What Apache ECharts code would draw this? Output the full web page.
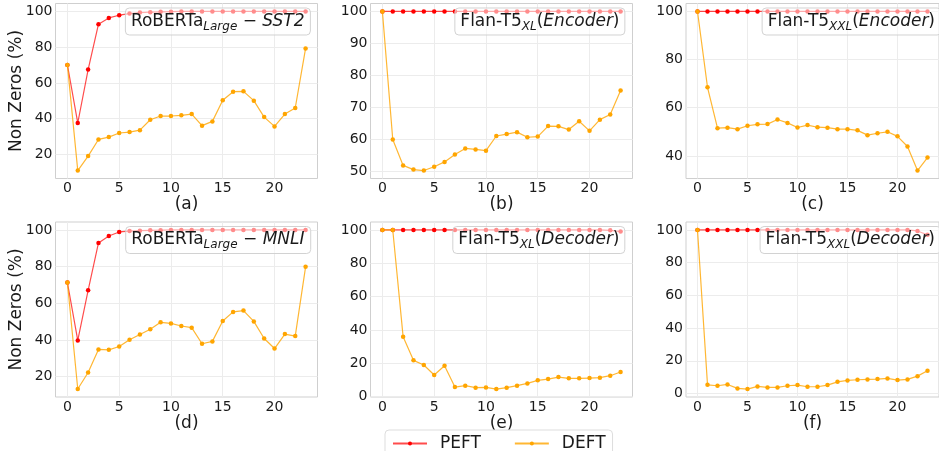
<!DOCTYPE html>
<html>
<head>
<meta charset="utf-8">
<script src="https://cdn.jsdelivr.net/npm/echarts@6/dist/echarts.min.js"></script>
<style>
  html, body { margin: 0; padding: 0; background: #fff; }
  #chart { width: 939px; height: 451px; }
</style>
</head>
<body>
<div id="chart"></div>
<script>
// layer index on the x axis
var layers = [0, 1, 2, 3, 4, 5, 6, 7, 8, 9, 10, 11, 12, 13, 14, 15, 16, 17, 18, 19, 20, 21, 22, 23];
var xTicks = [0, 5, 10, 15, 20];

// (a) RoBERTa-Large SST2
var peftA = [70.1, 37.6, 67.5, 92.9, 96.4, 97.9, 98.8, 99.4, 99.6, 99.8, 99.9, 100, 100, 100, 100, 100, 100, 100, 100, 100, 100, 100, 100, 100];
var deftA = [70.1, 11.0, 19.1, 28.4, 29.7, 32.0, 32.5, 33.6, 39.4, 41.5, 41.5, 41.9, 42.6, 36.1, 38.5, 50.3, 55.1, 55.3, 50.1, 40.9, 35.7, 42.6, 46.0, 79.3];
// (b) Flan-T5 XL encoder
var peftB = [100, 100, 100, 100, 100, 100, 100, 100, 100, 100, 100, 100, 100, 100, 100, 100, 100, 100, 100, 100, 100, 100, 100, 100];
var deftB = [100, 60.0, 51.9, 50.6, 50.3, 51.5, 53.0, 55.3, 57.2, 56.9, 56.5, 61.1, 61.7, 62.3, 60.7, 60.9, 64.2, 64.1, 63.1, 65.7, 62.7, 66.2, 67.8, 75.3];
// (c) Flan-T5 XXL encoder
var peftC = [100, 100, 100, 100, 100, 100, 100, 100, 100, 100, 100, 100, 100, 100, 100, 100, 100, 100, 100, 100, 100, 100, 100, 100];
var deftC = [100, 68.5, 51.5, 51.7, 51.1, 52.5, 53.1, 53.2, 55.1, 53.7, 51.8, 52.8, 51.9, 51.7, 51.1, 51.1, 50.6, 48.6, 49.4, 50.0, 48.1, 43.9, 33.9, 39.3];
// (d) RoBERTa-Large MNLI
var peftD = [71.3, 39.7, 67.1, 92.9, 96.7, 98.9, 99.4, 99.6, 99.8, 99.9, 100, 100, 100, 100, 100, 100, 100, 100, 100, 100, 100, 100, 100, 100];
var deftD = [71.3, 13.2, 22.2, 34.8, 34.6, 36.4, 40.1, 43.0, 45.8, 49.6, 49.0, 47.6, 46.7, 37.9, 39.2, 50.3, 55.3, 56.0, 50.1, 40.8, 35.3, 43.2, 42.1, 79.9];
// (e) Flan-T5 XL decoder
var peftE = [100, 100, 100, 100, 100, 100, 100, 100, 100, 100, 100, 100, 100, 100, 100, 100, 100, 100, 100, 100, 100, 100, 99.8, 99.0];
var deftE = [100, 100, 36.0, 21.8, 19.0, 13.0, 18.6, 5.8, 6.6, 5.4, 5.6, 4.6, 5.4, 6.6, 8.0, 9.8, 10.6, 11.8, 11.0, 11.0, 11.2, 11.4, 12.6, 14.8];
// (f) Flan-T5 XXL decoder
var peftF = [100, 100, 100, 100, 100, 100, 100, 100, 100, 100, 100, 100, 100, 100, 100, 100, 100, 100, 100, 100, 100, 100, 99.4, 97.0];
var deftF = [100, 5.3, 4.7, 5.5, 3.1, 2.7, 4.3, 3.7, 3.7, 4.7, 5.1, 4.1, 4.1, 5.1, 7.1, 8.0, 8.4, 8.6, 8.8, 9.2, 8.2, 8.6, 10.6, 13.9];

var yTicksA = [20, 40, 60, 80, 100];
var yTicksB = [50, 60, 70, 80, 90, 100];
var yTicksC = [40, 60, 80, 100];
var yTicksD = [20, 40, 60, 80, 100];
var yTicksE = [0, 20, 40, 60, 80, 100];
var yTicksF = [0, 20, 40, 60, 80, 100];

var panelNames = ['(a)', '(b)', '(c)', '(d)', '(e)', '(f)'];
var panelTitles = [
    '{n|RoBERTa}{s|Large}{n| − }{i|SST2}',
    '{n|Flan-T5}{s|XL}{n|(}{i|Encoder}{n|)}',
    '{n|Flan-T5}{s|XXL}{n|(}{i|Encoder}{n|)}',
    '{n|RoBERTa}{s|Large}{n| − }{i|MNLI}',
    '{n|Flan-T5}{s|XL}{n|(}{i|Decoder}{n|)}',
    '{n|Flan-T5}{s|XXL}{n|(}{i|Decoder}{n|)}'
];

var peftAll = [peftA, peftB, peftC, peftD, peftE, peftF];
var deftAll = [deftA, deftB, deftC, deftD, deftE, deftF];
var yTicksAll = [yTicksA, yTicksB, yTicksC, yTicksD, yTicksE, yTicksF];

var FONT = 'DejaVu Sans';
var TXT = '#1a1a1a';
var W = 939;
var plotW = 262, plotH = 175;
var gridPos = [
    [55.5, 3.5], [370.5, 3.5], [686, 3.5],
    [55.5, 222], [370.5, 222], [686, 222]
];

function pairs(ys) {
    return layers.map(function (x, i) { return [x, ys[i]]; });
}
function padMin(v) { return v.min - (v.max - v.min) * 0.05; }
function padMax(v) { return v.max + (v.max - v.min) * 0.05; }

var grids = [], xAxes = [], yAxes = [], series = [], titles = [];

gridPos.forEach(function (p, k) {
    grids.push({
        left: p[0], top: p[1], width: plotW, height: plotH,
        show: true, borderColor: '#cfcfcf', borderWidth: 1, backgroundColor: 'transparent'
    });
    xAxes.push({
        type: 'value', gridIndex: k, min: padMin, max: padMax,
        name: panelNames[k], nameLocation: 'middle', nameGap: 17,
        nameTextStyle: { fontFamily: FONT, fontSize: 17, color: TXT },
        axisLine: { show: false },
        axisTick: { show: false, customValues: xTicks },
        axisLabel: { customValues: xTicks, fontFamily: FONT, fontSize: 14, color: TXT, margin: 3 },
        splitLine: { show: true, lineStyle: { color: '#ececec', width: 1 } }
    });
    yAxes.push({
        type: 'value', gridIndex: k, min: padMin, max: padMax,
        axisLine: { show: false },
        axisTick: { show: false, customValues: yTicksAll[k] },
        axisLabel: { customValues: yTicksAll[k], fontFamily: FONT, fontSize: 14, color: TXT, margin: 3 },
        splitLine: { show: true, lineStyle: { color: '#ececec', width: 1 } }
    });
    series.push({
        name: 'PEFT', type: 'line', xAxisIndex: k, yAxisIndex: k,
        data: pairs(peftAll[k]), symbol: 'circle', symbolSize: 4.5,
        itemStyle: { color: '#ff0000' },
        lineStyle: { color: 'rgba(255,0,0,0.7)', width: 1.2 },
        animation: false, z: 2
    });
    series.push({
        name: 'DEFT', type: 'line', xAxisIndex: k, yAxisIndex: k,
        data: pairs(deftAll[k]), symbol: 'circle', symbolSize: 4.5,
        itemStyle: { color: '#ffa500' },
        lineStyle: { color: 'rgba(255,165,0,0.8)', width: 1.2 },
        animation: false, z: 3
    });
    titles.push({
        text: panelTitles[k],
        right: W - (p[0] + plotW) + 7, top: p[1] + 4,
        padding: [3, 6, 3, 6],
        backgroundColor: 'rgba(255,255,255,0.55)',
        borderColor: 'rgba(205,205,205,0.9)', borderWidth: 1, borderRadius: 4,
        textStyle: {
            fontFamily: FONT, fontSize: 17, color: TXT, fontWeight: 'normal',
            rich: {
                n: { fontFamily: FONT, fontSize: 17, color: TXT, lineHeight: 22 },
                i: { fontFamily: FONT, fontSize: 17, color: TXT, fontStyle: 'italic', lineHeight: 22 },
                s: { fontFamily: FONT, fontSize: 12, color: TXT, fontStyle: 'italic', lineHeight: 12, padding: [10, 0, 0, 0] }
            }
        }
    });
});

var chart = echarts.init(document.getElementById('chart'));
chart.setOption({
    animation: false,
    title: titles,
    grid: grids,
    xAxis: xAxes,
    yAxis: yAxes,
    series: series,
    legend: {
        data: ['PEFT', 'DEFT'], left: 385, top: 430,
        itemWidth: 34, itemHeight: 5, itemGap: 33,
        backgroundColor: '#fff', borderColor: '#dddddd', borderWidth: 1, borderRadius: 4,
        padding: [5, 7, 10, 7],
        textStyle: { fontFamily: FONT, fontSize: 17, color: TXT, padding: [0, 0, 0, 8] }
    },
    graphic: [
        { type: 'text', x: 16.5, y: 3.5 + plotH / 2, rotation: Math.PI / 2,
          style: { text: 'Non Zeros (%)', font: '17px "DejaVu Sans"', fill: TXT, align: 'center', verticalAlign: 'middle' } },
        { type: 'text', x: 16.5, y: 222 + plotH / 2, rotation: Math.PI / 2,
          style: { text: 'Non Zeros (%)', font: '17px "DejaVu Sans"', fill: TXT, align: 'center', verticalAlign: 'middle' } }
    ]
});
window.addEventListener('resize', function () { chart.resize(); });
</script>
</body>
</html>
